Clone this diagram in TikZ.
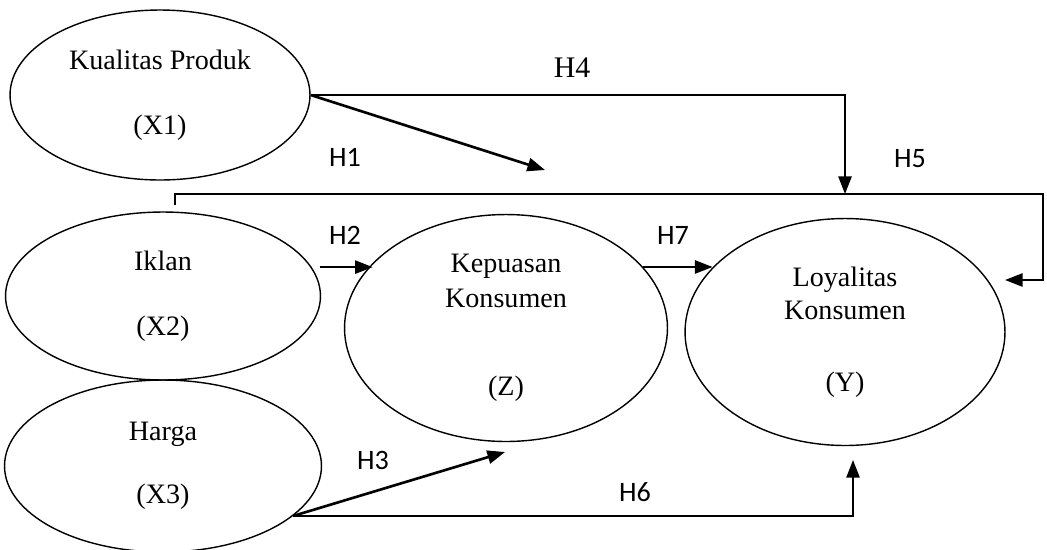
\documentclass[tikz,border=0pt]{standalone}
\usepackage{fontspec}
\setmainfont{Liberation Serif}
\newfontfamily\hfont{Carlito}
\usetikzlibrary{arrows.meta,shapes.geometric}

\begin{document}
\begin{tikzpicture}[x=0.02cm,y=-0.02cm,line width=0.8pt,
  every node/.style={font=\fontsize{16}{18}\selectfont},
  var/.style={draw,ellipse,inner sep=0pt,align=center},
  hyp/.style={font=\hfont\fontsize{16}{18}\selectfont},
  arr/.style={line width=1.1pt,-{Triangle[length=10pt,width=7.5pt]}}]
  \useasboundingbox (0,0) rectangle (1047,549);
  \node[var,minimum width=6cm,minimum height=3.4cm] (X1) at (160,95) {Kualitas Produk\\[19pt](X1)};
  \node[var,minimum width=6.3cm,minimum height=3.36cm] (X2) at (163,296) {Iklan\\[19pt](X2)};
  \node[var,minimum width=6.34cm,minimum height=3.44cm] (X3) at (163,466) {Harga\\[18pt](X3)};
  \node[var,minimum width=6.46cm,minimum height=4.54cm] (Z) at (506,328) {Kepuasan\\[2pt]Konsumen\\[32pt](Z)};
  \node[var,minimum width=6.4cm,minimum height=4.54cm] (Y) at (845,332) {Loyalitas\\[1pt]Konsumen\\[23pt](Y)};
  \coordinate (h1end) at (545,170);
  \coordinate (h4end) at (845,194);
  \coordinate (h5a) at (175,205);
  \coordinate (h5b) at (1043,194);
  \coordinate (h5end) at (1005,280);
  \coordinate (h3end) at (505,452);
  \coordinate (h6end) at (853,460);
  \draw[arr,line width=1.5pt] (X1.east) -- (h1end);
  \draw[arr] (X1.east) -| (h4end);
  \draw[arr] (h5a) |- (h5b) |- (h5end);
  \draw[arr] (X2.11) ++(8,0) -- (X2.11 -| Z.154);
  \draw[arr] (Z.24) -- (Z.24 -| Y.154);
  \draw[arr,line width=1.5pt] (X3.-21) -- (h3end);
  \draw[arr] (X3.-21) -| (h6end);
  \node[font=\fontsize{17}{18}\selectfont] (lh4) at (572,68) {H4};
  \foreach \n/\x/\y in {1/345/157,2/345/235,3/373/460,5/910/159,6/635/492,7/673/235}
    \node[hyp] (lh\n) at (\x,\y) {H\n};
\end{tikzpicture}
\end{document}
